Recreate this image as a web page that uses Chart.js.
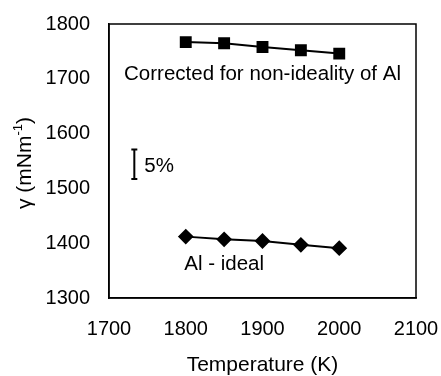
<!DOCTYPE html>
<html>
<head>
<meta charset="utf-8">
<script src="https://cdn.jsdelivr.net/npm/chart.js@4/dist/chart.umd.min.js"></script>
<style>
  html, body { margin: 0; padding: 0; background: #fff; }
  #box { width: 441px; height: 376px; }
</style>
</head>
<body>
<div id="box"><canvas id="grafico"></canvas></div>
<script>
const temperaturas = [1800, 1850, 1900, 1950, 2000];
const corregido = [1767, 1765, 1758, 1752, 1746];
const ideal = [1412, 1407, 1404, 1397, 1391];
const xTicks = [1700, 1800, 1900, 2000, 2100];
const yTicks = [1300, 1400, 1500, 1600, 1700, 1800];
// texts placed in data units: [text, x, y]
const notas = [
  ["Corrected for non-ideality of Al", 1900, 1708],
  ["Al - ideal", 1850, 1362]
];
const barra5 = { x: 1733, y1: 1517, y2: 1571, texto: "5%" };

const fuente = "'Liberation Sans', Arial, sans-serif";

const extras = {
  id: 'extras',
  afterDraw(chart) {
    const c = chart.ctx, a = chart.chartArea;
    const sx = chart.scales.x, sy = chart.scales.y;
    c.save();
    c.strokeStyle = '#000';
    c.lineWidth = 1.5;
    c.strokeRect(a.left, a.top, a.right - a.left, a.bottom - a.top);

    c.fillStyle = '#000';
    c.font = '20.5px ' + fuente;
    c.textAlign = 'center';
    c.textBaseline = 'middle';
    notas.forEach(n => c.fillText(n[0], sx.getPixelForValue(n[1]), sy.getPixelForValue(n[2])));

    // barra del 5%
    const bx = sx.getPixelForValue(barra5.x);
    const b1 = sy.getPixelForValue(barra5.y1), b2 = sy.getPixelForValue(barra5.y2);
    c.lineWidth = 2;
    c.beginPath();
    c.moveTo(bx, b1); c.lineTo(bx, b2);
    c.moveTo(bx - 3, b1); c.lineTo(bx + 3, b1);
    c.moveTo(bx - 3, b2); c.lineTo(bx + 3, b2);
    c.stroke();
    c.textAlign = 'left';
    c.fillText(barra5.texto, bx + 10, (b1 + b2) / 2 + 2);

    // titulo eje y con superindice
    c.translate(25, 163);
    c.rotate(-Math.PI / 2);
    const base = 'γ (mNm', sup = '-1', cierre = ')';
    c.font = '21px ' + fuente;
    const w1 = c.measureText(base).width, w3 = c.measureText(cierre).width;
    c.font = '13px ' + fuente;
    const w2 = c.measureText(sup).width;
    let x0 = -(w1 + w2 + w3) / 2;
    c.textAlign = 'left';
    c.font = '21px ' + fuente;
    c.fillText(base, x0, 0);
    c.font = '13px ' + fuente;
    c.fillText(sup, x0 + w1, -7);
    c.font = '21px ' + fuente;
    c.fillText(cierre, x0 + w1 + w2, 0);
    c.restore();
  }
};

const ctx = document.getElementById('grafico').getContext('2d');
const grafico = new Chart(ctx, {
  type: 'line',
  data: {
    datasets: [
      {
        label: 'Corrected for non-ideality of Al',
        data: temperaturas.map((t, i) => ({ x: t, y: corregido[i] })),
        borderColor: '#000', backgroundColor: '#000', borderWidth: 2,
        pointStyle: 'rect', pointRadius: 7, pointHoverRadius: 7
      },
      {
        label: 'Al - ideal',
        data: temperaturas.map((t, i) => ({ x: t, y: ideal[i] })),
        borderColor: '#000', backgroundColor: '#000', borderWidth: 2,
        pointStyle: 'rectRot', pointRadius: 6.5, pointHoverRadius: 6.5
      }
    ]
  },
  options: {
    responsive: true,
    maintainAspectRatio: false,
    animation: false,
    layout: { padding: { top: 22, right: 25, left: 0, bottom: 0 } },
    plugins: { legend: { display: false }, tooltip: { enabled: false } },
    scales: {
      x: {
        type: 'linear', min: 1700, max: 2100,
        afterBuildTicks: s => { s.ticks = xTicks.map(v => ({ value: v })); },
        afterFit: s => { s.height = 78; s.paddingRight = 0; s.paddingLeft = 0; },
        grid: { display: false, drawOnChartArea: false, drawTicks: true, tickLength: 7, tickColor: '#000', tickWidth: 1.5 },
        border: { color: '#000', width: 1.5 },
        ticks: { color: '#000', font: { family: fuente, size: 20 }, padding: 12, maxRotation: 0, callback: v => String(v) },
        title: { display: true, text: 'Temperature (K)', color: '#000', font: { family: fuente, size: 21, lineHeight: 1 }, padding: { top: 4, bottom: 0 } }
      },
      y: {
        type: 'linear', min: 1300, max: 1800,
        afterBuildTicks: s => { s.ticks = yTicks.map(v => ({ value: v })); },
        afterFit: s => { s.width = 109; },
        grid: { display: false, drawOnChartArea: false, drawTicks: true, tickLength: 7, tickColor: '#000', tickWidth: 1.5 },
        border: { color: '#000', width: 1.5 },
        ticks: { color: '#000', font: { family: fuente, size: 20 }, padding: 12, callback: v => String(v) }
      }
    }
  },
  plugins: [extras]
});
</script>
</body>
</html>
